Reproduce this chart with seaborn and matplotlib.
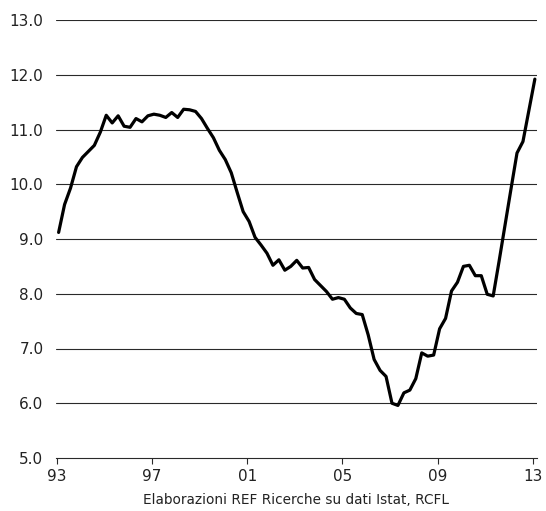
#################################################################
## Tasso di disoccupazione trimestrale, 1993-2013
#################################################################

'''IMPORTS'''
import numpy as np
import pandas as pd
import matplotlib
matplotlib.use('Agg')
import matplotlib.pyplot as plt
import seaborn as sns

'''DATA'''
# quarterly values (1993Q1 .. 2013Q1)
unemp_rate = [9.12, 9.63, 9.93, 10.32, 10.49, 10.60, 10.71, 10.95,
              11.26, 11.12, 11.25, 11.06, 11.04, 11.20, 11.14, 11.25,
              11.28, 11.26, 11.22, 11.31, 11.22, 11.37, 11.36, 11.33,
              11.20, 11.02, 10.85, 10.62, 10.45, 10.21, 9.85, 9.50,
              9.32, 9.03, 8.89, 8.74, 8.52, 8.62, 8.43, 8.50,
              8.61, 8.47, 8.48, 8.26, 8.15, 8.04, 7.90, 7.93,
              7.90, 7.74, 7.64, 7.62, 7.25, 6.80, 6.60, 6.49,
              6.00, 5.96, 6.19, 6.24, 6.45, 6.92, 6.86, 6.88,
              7.36, 7.55, 8.05, 8.21, 8.50, 8.52, 8.33, 8.33,
              7.99, 7.96, 8.60, 9.26, 9.92, 10.57, 10.78, 11.35,
              11.92]
tick_years = [1993, 1997, 2001, 2005, 2009, 2013]
tick_labels = ['93', '97', '01', '05', '09', '13']
y_ticks = [5, 6, 7, 8, 9, 10, 11, 12, 13]
caption = 'Elaborazioni REF Ricerche su dati Istat, RCFL'

df = pd.DataFrame({'anno': 1993.08 + np.arange(len(unemp_rate)) * 0.25,
                   'tasso': unemp_rate})

'''PLOT'''
sns.set_style('white')
plt.rcParams['font.family'] = ['DejaVu Sans']
plt.rcParams['text.color'] = '#222222'

fig = plt.figure(figsize=(5.46, 5.11), dpi=100)
ax = fig.add_axes([56/546, 1 - 458/511, (537 - 56)/546, (458 - 20)/511])

# horizontal grid
for yv in y_ticks[1:]:
    ax.axhline(yv, color='#2a2a2a', linewidth=0.8, zorder=1)

sns.lineplot(data=df, x='anno', y='tasso', color='black', linewidth=2.3,
             ax=ax, zorder=3)

ax.set_xlim(1992.97, 2013.17)
ax.set_ylim(5, 13)
ax.set_xticks(tick_years)
ax.set_xticklabels(tick_labels)
ax.set_yticks(y_ticks)
ax.set_yticklabels(['%.1f' % v for v in y_ticks])
ax.set_xlabel('')
ax.set_ylabel('')

for s in ['top', 'right', 'left']:
    ax.spines[s].set_visible(False)
ax.spines['bottom'].set_color('#2a2a2a')
ax.spines['bottom'].set_linewidth(0.8)

ax.tick_params(axis='x', bottom=True, direction='out', length=4, width=0.8,
               color='#2a2a2a', labelcolor='#222222', labelsize=11, pad=4)
ax.tick_params(axis='y', left=False, length=0, labelcolor='#222222',
               labelsize=11, pad=9)

fig.text(296/546, 1 - 500/511, caption, ha='center', va='center', fontsize=9.8)

fig.savefig('out.png', dpi=100)
